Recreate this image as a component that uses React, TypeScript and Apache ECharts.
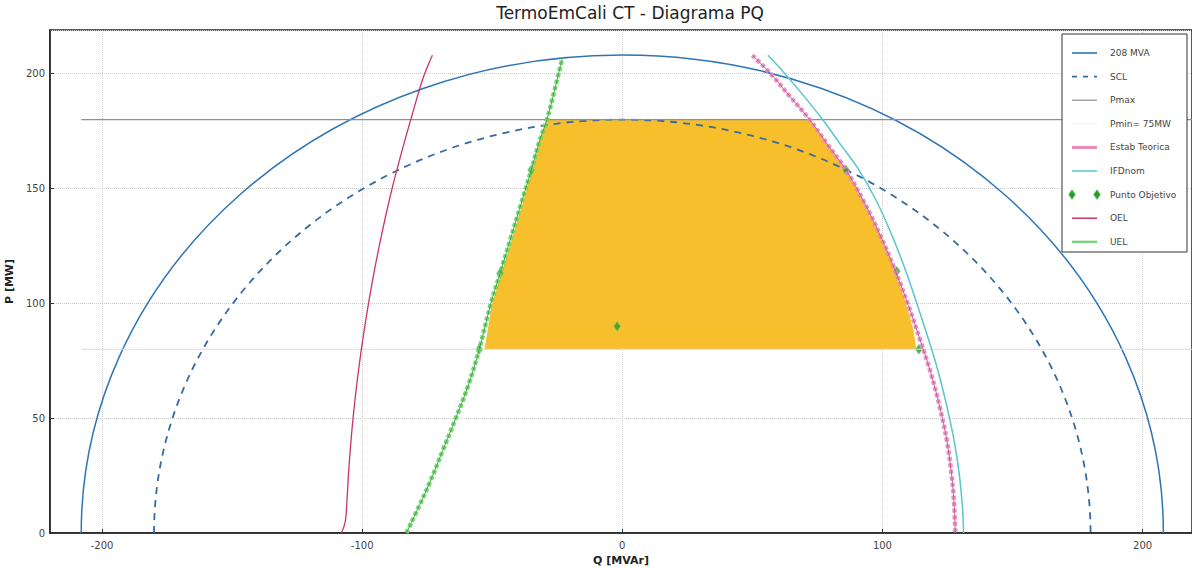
import { useEffect, useRef } from 'react';
import * as echarts from 'echarts';

const chartTitle = 'TermoEmCali CT - Diagrama PQ';
const qAxisName = 'Q [MVAr]';
const pAxisName = 'P [MW]';
const qRange = [-220, 219];
const pRange = [0, 219];

const mvaRadius = [208];
const sclRadius = [180];
const pmaxLine = [[-208, 180], [219, 180]];
const pminLine = [[-208, 80], [219, 80]];
const estabTeorica = [[50, 208], [57, 200], [64.5, 190], [72, 180], [79, 169], [86, 158], [92.5, 145], [99, 130], [105, 114], [110, 99], [114.5, 84], [118.5, 70], [122, 55], [124.8, 40], [126.6, 25], [127.6, 12], [128, 0]];
const ifdNom = [[56, 208], [62.5, 200], [70, 190], [77, 180], [84, 169], [91, 158], [97.5, 145], [103.5, 130], [109, 114], [113.5, 99], [117.8, 84], [121.5, 70], [124.8, 55], [127.6, 40], [129.6, 25], [130.7, 12], [131.2, 0]];
const oel = [[-108, 0], [-106.5, 5], [-105.8, 15], [-105, 30], [-103.5, 50], [-101.5, 70], [-99, 90], [-96, 110], [-92.5, 130], [-88.5, 150], [-84.3, 168], [-80.3, 184], [-76.6, 198], [-73, 208]];
const uel = [[-83, 0], [-78, 12], [-74, 22], [-69, 36], [-64, 50], [-59, 65], [-55, 80], [-50.5, 100], [-47, 113], [-43, 128], [-39, 143], [-35, 158], [-32, 170], [-29, 180], [-26, 193], [-23, 207]];
const puntoObjetivo = [[-55, 80], [-47, 113], [-35, 158], [-2, 90], [86, 158], [105.5, 114], [114, 80]];
const operatingRegion = [[-53, 80], [-50, 100], [-46.5, 113], [-42.5, 128], [-38.5, 143], [-34.7, 158], [-31.8, 170], [-29, 180], [72, 180], [79, 169], [86, 158], [92.5, 145], [99, 130], [105, 114], [109, 100], [112, 88], [113, 80]];

const legendNames = ['208 MVA', 'SCL', 'Pmax', 'Pmin= 75MW', 'Estab Teorica', 'IFDnom', 'Punto Objetivo', 'OEL', 'UEL'];

const FONT = 'DejaVu Sans';
const C_BLUE = '#2f75b5';
const C_SCL = '#356aa3';
const C_PMAX = '#8f8f8f';
const C_PMIN = '#dcdcdc';
const C_ESTAB = '#e48abd';
const C_IFD = '#58c6cf';
const C_OEL = '#c8336e';
const C_UEL = '#6fd46f';
const C_PUNTO = '#2e9a2e';
const C_FILL = '#F8BF2C';

function arcSeries(name: string, radii: number[], color: string, dash: number[] | null) {
  return {
    type: 'custom',
    name,
    data: radii.map((r) => [r]),
    renderItem: (_p: any, api: any) => {
      const r = api.value(0);
      const c = api.coord([0, 0]);
      const s = api.size([r, r]);
      const rx = s[0];
      const ry = s[1];
      return {
        type: 'path',
        shape: { pathData: `M ${c[0] - rx} ${c[1]} A ${rx} ${ry} 0 0 1 ${c[0] + rx} ${c[1]}` },
        style: { fill: 'none', stroke: color, lineWidth: dash ? 1.8 : 1.5, lineDash: dash || undefined },
      };
    },
  };
}

function buildLegend() {
  const x0 = 1062, y0 = 34, w = 125, h = 218;
  const rowY0 = 53, step = 23.6;
  const lx1 = 1072, lx2 = 1097, tx = 1110;
  const els: any[] = [
    { type: 'rect', shape: { x: x0, y: y0, width: w, height: h }, style: { fill: '#fff', stroke: '#333', lineWidth: 1 }, z: 100 },
  ];
  const lineStyles: any[] = [
    { stroke: C_BLUE, lineWidth: 1.6 },
    { stroke: C_SCL, lineWidth: 1.8, lineDash: [5, 6] },
    { stroke: C_PMAX, lineWidth: 1.2 },
    { stroke: '#eeeeee', lineWidth: 1 },
    { stroke: C_ESTAB, lineWidth: 3 },
    { stroke: C_IFD, lineWidth: 1.5 },
    null,
    { stroke: C_OEL, lineWidth: 1.5 },
    { stroke: C_UEL, lineWidth: 2.2 },
  ];
  legendNames.forEach((name, i) => {
    const y = rowY0 + i * step;
    const st = lineStyles[i];
    if (st) {
      els.push({ type: 'line', shape: { x1: lx1, y1: y, x2: lx2, y2: y }, style: st, z: 101 });
    } else {
      [lx1, lx2].forEach((cx) => {
        els.push({
          type: 'polygon',
          shape: { points: [[cx, y - 5], [cx + 3.5, y], [cx, y + 5], [cx - 3.5, y]] },
          style: { fill: C_PUNTO, stroke: '#7ed87e', lineWidth: 0.8 },
          z: 101,
        });
      });
    }
    els.push({
      type: 'text',
      x: tx,
      y,
      style: { text: name, fontSize: 9, fontFamily: FONT, fill: '#444', verticalAlign: 'middle', align: 'left' },
      z: 101,
    });
  });
  return els;
}

export default function App() {
  const ref = useRef<HTMLDivElement>(null);
  useEffect(() => {
    if (!ref.current) return;
    const chart = echarts.init(ref.current, undefined, { renderer: 'svg' });
    const axisLabel = { fontSize: 10, fontFamily: FONT, color: '#444' };
    const splitLine = { show: true, lineStyle: { color: '#cdcdcd', type: 'dotted', width: 1 } };
    const curve = { symbol: 'none', smooth: 0.4 };
    chart.setOption({
      animation: false,
      backgroundColor: '#ffffff',
      title: {
        text: chartTitle,
        left: 625,
        top: -1,
        textAlign: 'center',
        textStyle: { fontSize: 17, fontWeight: 'normal', fontFamily: FONT, color: '#222' },
      },
      grid: {
        left: 50, right: 0, top: 30, bottom: 35,
        show: true, borderColor: '#222', borderWidth: 1.5,
        containLabel: false, outerBoundsMode: 'none',
      },
      xAxis: {
        type: 'value',
        min: qRange[0], max: qRange[1], splitNumber: 4,
        name: qAxisName, nameLocation: 'middle', nameGap: 12,
        nameTextStyle: { fontSize: 11, fontFamily: FONT, color: '#222', fontWeight: 'bold' },
        axisLine: { show: true, onZero: false, lineStyle: { color: '#222', width: 1.5 } },
        axisTick: { show: true, inside: true, length: 4, lineStyle: { color: '#333' } },
        axisLabel: { ...axisLabel, margin: 7, showMinLabel: false, showMaxLabel: false },
        splitLine,
      },
      yAxis: {
        type: 'value',
        min: pRange[0], max: pRange[1], splitNumber: 4,
        name: pAxisName, nameLocation: 'middle', nameGap: 16,
        nameTextStyle: { fontSize: 11, fontFamily: FONT, color: '#222', fontWeight: 'bold' },
        axisLine: { show: true, onZero: false, lineStyle: { color: '#222', width: 1.5 } },
        axisTick: { show: true, inside: true, length: 4, lineStyle: { color: '#333' } },
        axisLabel: { ...axisLabel, margin: 5, showMaxLabel: false },
        splitLine,
      },
      graphic: buildLegend(),
      series: [
        {
          type: 'custom',
          name: 'Zona Operativa',
          data: [[0, 0]],
          renderItem: (_p: any, api: any) => ({
            type: 'polygon',
            shape: { points: operatingRegion.map((pt) => api.coord(pt)) },
            style: { fill: C_FILL },
          }),
        },
        arcSeries('208 MVA', mvaRadius, C_BLUE, null),
        arcSeries('SCL', sclRadius, C_SCL, [7, 6]),
        { type: 'line', name: 'Pmax', data: pmaxLine, symbol: 'none', lineStyle: { color: C_PMAX, width: 1.3 } },
        { type: 'line', name: 'Pmin= 75MW', data: pminLine, symbol: 'none', lineStyle: { color: C_PMIN, width: 1 } },
        { type: 'line', name: 'Estab Teorica', data: estabTeorica, ...curve, lineStyle: { color: C_ESTAB, width: 4.5, type: [4, 2.5], opacity: 0.9 } },
        { type: 'line', name: 'Estab Teorica ', data: estabTeorica, ...curve, lineStyle: { color: '#c9589a', width: 1 } },
        { type: 'line', name: 'IFDnom', data: ifdNom, ...curve, lineStyle: { color: C_IFD, width: 1.5 } },
        { type: 'line', name: 'OEL', data: oel, ...curve, lineStyle: { color: C_OEL, width: 1.3 } },
        { type: 'line', name: 'UEL', data: uel, ...curve, lineStyle: { color: C_UEL, width: 4.5, type: [4, 2.5], opacity: 0.95 } },
        { type: 'line', name: 'UEL ', data: uel, ...curve, lineStyle: { color: '#3fa83f', width: 1 } },
        {
          type: 'scatter', name: 'Punto Objetivo', data: puntoObjetivo,
          symbol: 'diamond', symbolSize: [7, 10],
          itemStyle: { color: C_PUNTO, borderColor: '#7ed87e', borderWidth: 0.8 },
        },
      ],
    });
    return () => chart.dispose();
  }, []);
  return <div ref={ref} style={{ position: 'absolute', left: 0, top: 0, width: 1192, height: 568 }} />;
}
